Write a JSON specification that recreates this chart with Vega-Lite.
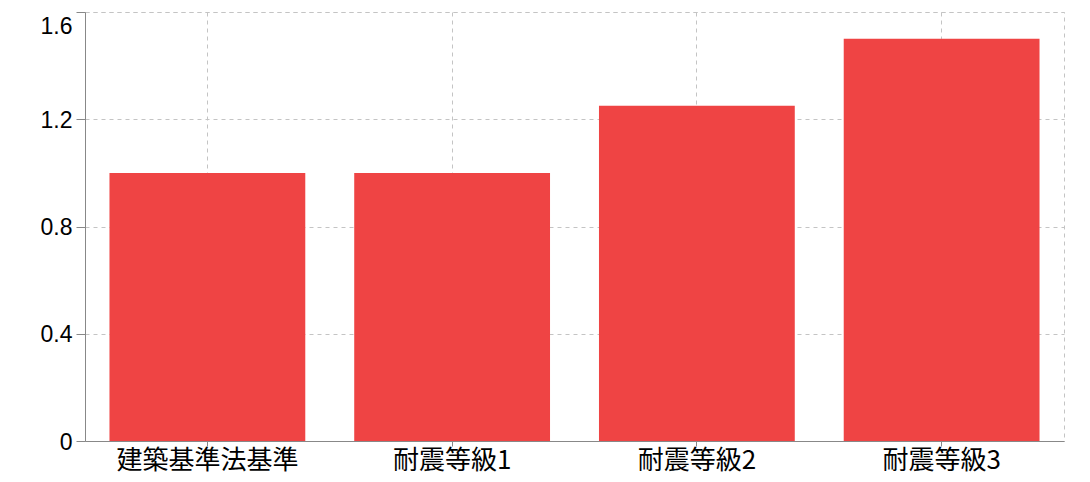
{
  "$schema": "https://vega.github.io/schema/vega-lite/v6.json",
  "width": 979,
  "height": 429,
  "autosize": "none",
  "padding": {"left": 85, "top": 12, "right": 26, "bottom": 41},
  "data": {
    "values": [
      {"grade": "建築基準法基準", "factor": 1.0},
      {"grade": "耐震等級1", "factor": 1.0},
      {"grade": "耐震等級2", "factor": 1.25},
      {"grade": "耐震等級3", "factor": 1.5}
    ]
  },
  "mark": {"type": "bar", "color": "#ef4444"},
  "encoding": {
    "x": {
      "field": "grade",
      "type": "nominal",
      "sort": null,
      "scale": {"paddingInner": 0.2, "paddingOuter": 0.1},
      "axis": {
        "title": null,
        "labelAngle": 0,
        "grid": true,
        "tickSize": 5,
        "labelPadding": 1,
        "labelLimit": 0,
        "labelFont": "Noto Sans CJK JP",
        "labelFontSize": 26
      }
    },
    "y": {
      "field": "factor",
      "type": "quantitative",
      "scale": {"domain": [0, 1.6], "nice": false},
      "axis": {
        "title": null,
        "values": [0, 0.4, 0.8, 1.2, 1.6],
        "format": "~g",
        "tickSize": 9,
        "labelPadding": 4,
        "labelFlush": false,
        "labelFont": "Liberation Sans",
        "labelFontSize": 23,
        "labelBaseline": {"condition": {"test": "datum.value == 1.6", "value": "top"}, "value": "middle"},
        "labelOffset": {"condition": {"test": "datum.value == 1.6", "value": 3}, "value": 1}
      }
    }
  },
  "config": {
    "view": {"stroke": "#c4c4c4", "strokeDash": [4, 4]},
    "axis": {
      "domainColor": "#888888",
      "tickColor": "#888888",
      "gridColor": "#c4c4c4",
      "gridDash": [4, 4],
      "labelColor": "#000000"
    }
  }
}
